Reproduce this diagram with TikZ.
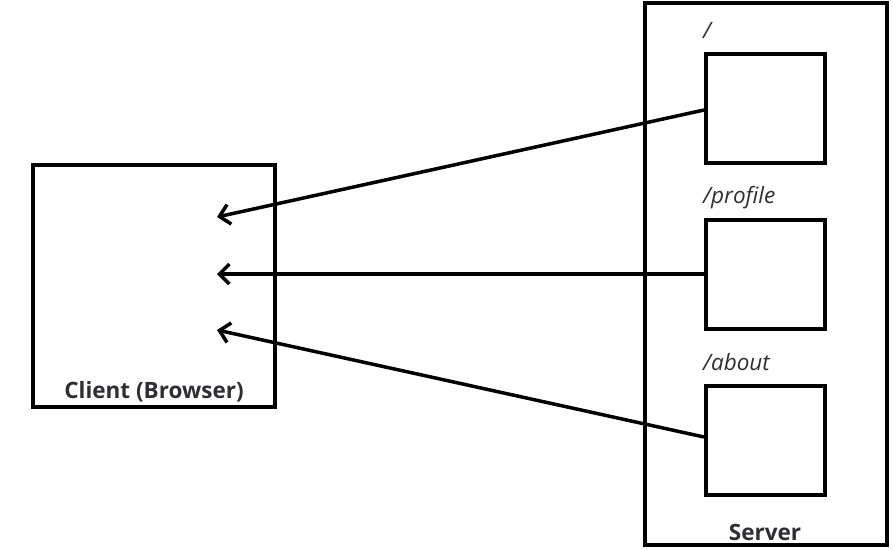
\documentclass[tikz,border=0pt]{standalone}
\usepackage{fontspec}
\setmainfont{Open Sans}
\usetikzlibrary{arrows.meta}
\definecolor{txt}{HTML}{2E2E33}
\begin{document}
\begin{tikzpicture}[x=1pt,y=-1pt,
  frame/.style={draw=black,line width=4pt,inner sep=0pt},
  route/.style={draw=black,line width=4pt,inner sep=0pt,minimum width=119pt,minimum height=109pt},
  conn/.style={line width=3.5pt,-{Straight Barb[length=10pt,width=20pt,line width=3.5pt]}},
  lbl/.style={text=txt,font=\fontsize{22.5}{26}\selectfont\bfseries,inner sep=0pt},
  rlbl/.style={text=txt,font=\fontsize{22.5}{26}\selectfont\itshape,inner sep=0pt,anchor=west}]
\useasboundingbox (0,0) rectangle (893,549);
\node[frame,minimum width=242pt,minimum height=242pt] (client) at (154,286) {};
\node[frame,minimum width=242pt,minimum height=542pt] (server) at (766,273.5) {};
\node[route] (r1) at (765.5,108) {};
\node[route] (r2) at (765.5,274) {};
\node[route] (r3) at (765.5,440) {};
\node[lbl] (clientlbl) at (154,392) {Client (Browser)};
\node[lbl] (serverlbl) at (765,532) {Server};
\node[rlbl] (l1) at (703,30) {/};
\node[rlbl] (l2) at (703,198) {/profile};
\node[rlbl] (l3) at (703,362) {/about};
\coordinate (e1) at (217,217);
\coordinate (e2) at (217,274);
\coordinate (e3) at (217,330);
\draw[conn] (r1.west |- 0,110) -- (e1);
\draw[conn] (r2.west |- 0,274) -- (e2);
\draw[conn] (r3.west |- 0,437) -- (e3);
\end{tikzpicture}
\end{document}
